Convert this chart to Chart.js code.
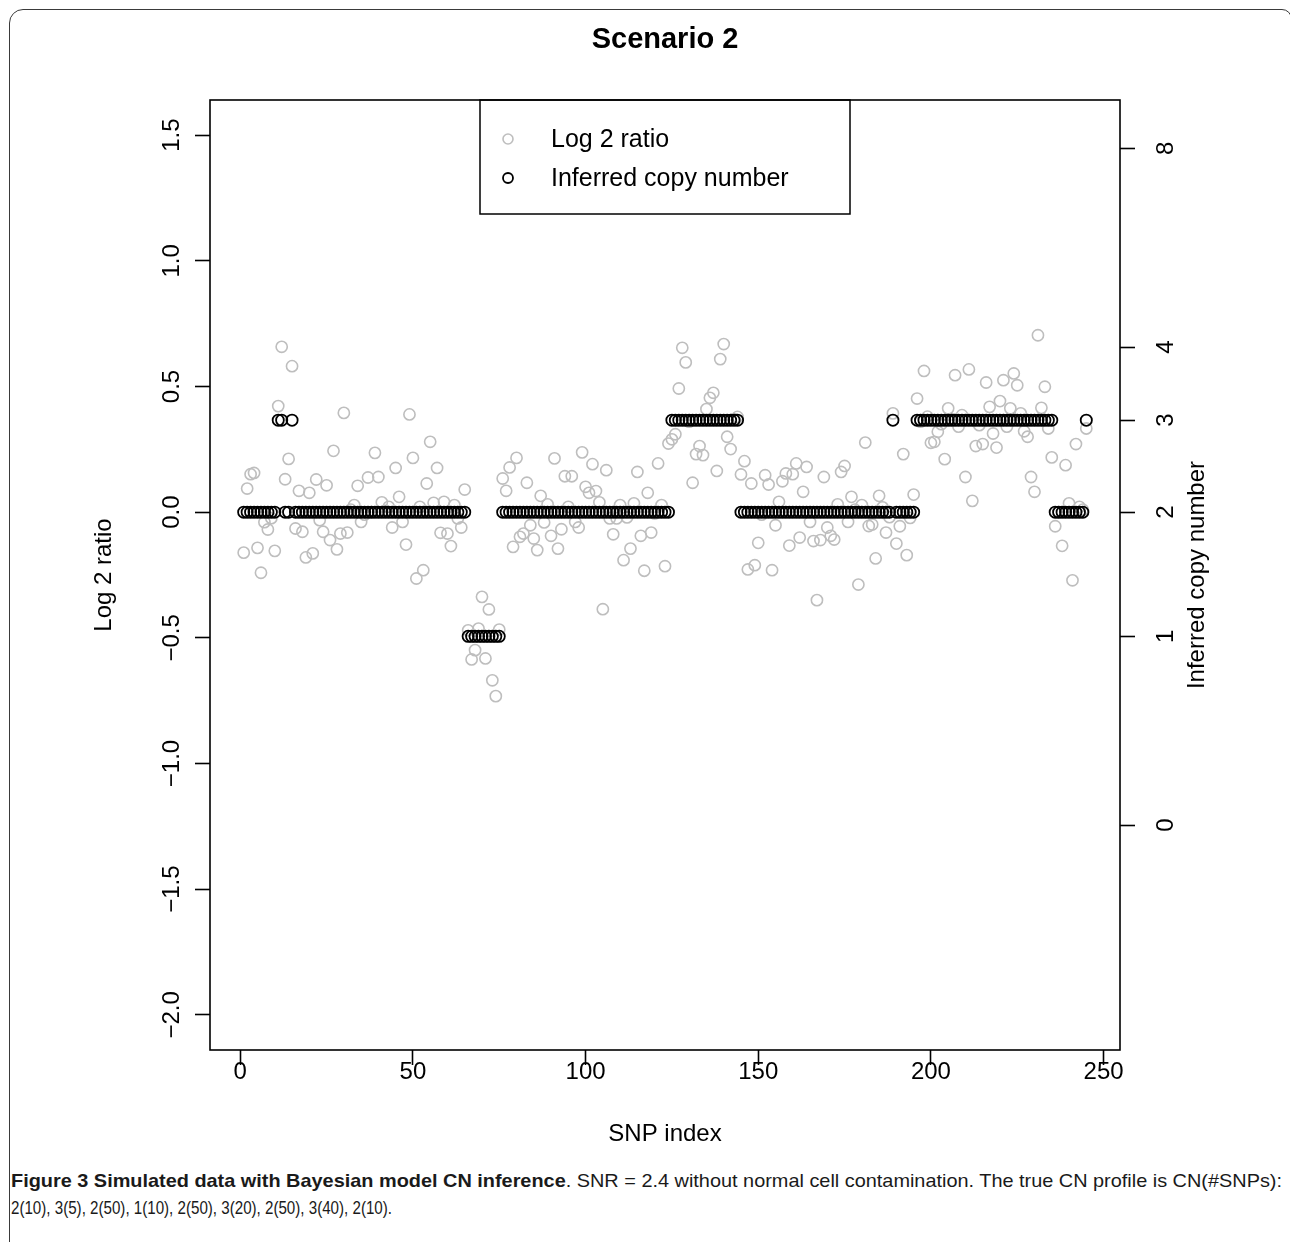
<!DOCTYPE html>
<html>
<head>
<meta charset="utf-8">
<script src="https://cdn.jsdelivr.net/npm/chart.js@4.4.1/dist/chart.umd.min.js"></script>
<style>
  html, body { margin: 0; padding: 0; background: #fff; overflow: hidden; }
  #frame { position: absolute; left: 9px; top: 9px; width: 1283px; height: 1300px;
           border: 1.3px solid #3a3a3a; border-top-left-radius: 14px; border-top-right-radius: 10px;
           box-sizing: border-box; }
  #c { position: absolute; left: 0; top: 0; }
  .capline { position: absolute; left: 11px; white-space: nowrap; display: inline-block;
             transform-origin: 0 0;
             font-family: "Liberation Sans", Arial, Helvetica, sans-serif;
             font-size: 19px; line-height: 27px; color: #1a1a1a; }
  #l1 { top: 1167px; }
  #l2 { top: 1194px; }
  .capline b { font-weight: bold; }
</style>
</head>
<body>
<div id="frame"></div>
<canvas id="c" width="1290" height="1160"></canvas>
<span id="l1" class="capline"><b>Figure 3 Simulated data with Bayesian model CN inference</b>. SNR = 2.4 without normal cell contamination. The true CN profile is CN(#SNPs):</span>
<span id="l2" class="capline">2(10), 3(5), 2(50), 1(10), 2(50), 3(20), 2(50), 3(40), 2(10).</span>
<script>
// ---------- data ----------
const chartTitle = "Scenario 2";
const xTitle = "SNP index";
const yTitle = "Log 2 ratio";
const y2Title = "Inferred copy number";
const seriesNames = ["Log 2 ratio", "Inferred copy number"];

const xTickValues = [0, 50, 100, 150, 200, 250];
const xTickLabels = ["0", "50", "100", "150", "200", "250"];
const yTickValues = [-2.0, -1.5, -1.0, -0.5, 0.0, 0.5, 1.0, 1.5];
const yTickLabels = ["\u22122.0", "\u22121.5", "\u22121.0", "\u22120.5", "0.0", "0.5", "1.0", "1.5"];
// right axis: copy number and where it sits on the log2 ratio scale
const cnTickLabels = ["0", "1", "2", "3", "4", "8"];
const cnTickValues = [0, 1, 2, 3, 4, 8];
const cnTickLog2 = [-1.245, -0.494, 0.0, 0.366, 0.657, 1.448];

// log2 ratio, SNP 1..245
const log2Ratio = [
  -0.161, 0.094, 0.151, 0.156, -0.142, -0.241, -0.040, -0.069, -0.024, -0.154,
   0.422, 0.658, 0.131, 0.212, 0.581, -0.065, 0.085, -0.078, -0.180, 0.077,
  -0.164, 0.130, -0.032, -0.078, 0.107, -0.111, 0.244, -0.148, -0.085, 0.395,
  -0.081, 0.010, 0.028, 0.105, -0.039, -0.010, 0.138, 0.000, 0.236, 0.140,
   0.039, 0.005, 0.021, -0.061, 0.176, 0.061, -0.039, -0.129, 0.389, 0.216,
  -0.264, 0.021, -0.231, 0.114, 0.280, 0.037, 0.176, -0.082, 0.041, -0.085,
  -0.135, 0.028, -0.025, -0.061, 0.090, -0.470, -0.586, -0.549, -0.463, -0.337,
  -0.582, -0.387, -0.669, -0.732, -0.467, 0.134, 0.085, 0.178, -0.138, 0.216,
  -0.098, -0.085, 0.117, -0.052, -0.105, -0.151, 0.065, -0.041, 0.031, -0.094,
   0.214, -0.145, -0.068, 0.143, 0.021, 0.143, -0.039, -0.061, 0.238, 0.101,
   0.077, 0.191, 0.084, 0.039, -0.386, 0.167, -0.025, -0.088, -0.025, 0.028,
  -0.191, -0.021, -0.145, 0.035, 0.160, -0.094, -0.233, 0.077, -0.081, -0.005,
   0.194, 0.028, -0.215, 0.273, 0.290, 0.310, 0.492, 0.654, 0.596, 0.360,
   0.117, 0.231, 0.263, 0.227, 0.410, 0.455, 0.475, 0.164, 0.609, 0.669,
   0.300, 0.251, 0.370, 0.379, 0.150, 0.203, -0.228, 0.114, -0.211, -0.122,
  -0.010, 0.147, 0.110, -0.231, -0.052, 0.041, 0.123, 0.154, -0.133, 0.151,
   0.194, -0.101, 0.081, 0.180, -0.039, -0.115, -0.350, -0.111, 0.140, -0.061,
  -0.094, -0.109, 0.031, 0.160, 0.184, -0.039, 0.061, 0.010, -0.288, 0.028,
   0.277, -0.055, -0.049, -0.184, 0.065, 0.019, -0.081, -0.020, 0.393, -0.125,
  -0.056, 0.231, -0.171, -0.023, 0.070, 0.452, 0.360, 0.562, 0.380, 0.276,
   0.280, 0.320, 0.350, 0.211, 0.413, 0.370, 0.545, 0.340, 0.386, 0.140,
   0.568, 0.045, 0.263, 0.346, 0.271, 0.516, 0.419, 0.313, 0.257, 0.442,
   0.525, 0.340, 0.413, 0.552, 0.505, 0.393, 0.322, 0.300, 0.140, 0.081,
   0.704, 0.415, 0.499, 0.333, 0.218, -0.056, 0.000, -0.134, 0.187, 0.035,
  -0.271, 0.271, 0.021, 0.010, 0.333
];

// inferred copy number, SNP 1..245
const inferredCN = [
  2,2,2,2,2,2,2,2,2,2,
  3,3,2,2,3,2,2,2,2,2,
  2,2,2,2,2,2,2,2,2,2,
  2,2,2,2,2,2,2,2,2,2,
  2,2,2,2,2,2,2,2,2,2,
  2,2,2,2,2,2,2,2,2,2,
  2,2,2,2,2,1,1,1,1,1,
  1,1,1,1,1,2,2,2,2,2,
  2,2,2,2,2,2,2,2,2,2,
  2,2,2,2,2,2,2,2,2,2,
  2,2,2,2,2,2,2,2,2,2,
  2,2,2,2,2,2,2,2,2,2,
  2,2,2,2,3,3,3,3,3,3,
  3,3,3,3,3,3,3,3,3,3,
  3,3,3,3,2,2,2,2,2,2,
  2,2,2,2,2,2,2,2,2,2,
  2,2,2,2,2,2,2,2,2,2,
  2,2,2,2,2,2,2,2,2,2,
  2,2,2,2,2,2,2,2,3,2,
  2,2,2,2,2,3,3,3,3,3,
  3,3,3,3,3,3,3,3,3,3,
  3,3,3,3,3,3,3,3,3,3,
  3,3,3,3,3,3,3,3,3,3,
  3,3,3,3,3,2,2,2,2,2,
  2,2,2,2,3
];

// ---------- caption fitting (condensed text like the journal typeface) ----------
function fitLine(id, targetWidth) {
  const el = document.getElementById(id);
  const w = el.getBoundingClientRect().width;
  if (w > 0) el.style.transform = 'scaleX(' + (targetWidth / w) + ')';
}
fitLine('l1', 1271);
fitLine('l2', 381);

// ---------- chart ----------
const FONT = '"Liberation Sans", Arial, Helvetica, sans-serif';
const ratioPoints = log2Ratio.map((v, i) => ({ x: i + 1, y: v }));
const cnPoints = inferredCN.map((cn, i) => ({ x: i + 1, y: cnTickLog2[cnTickValues.indexOf(cn)] }));

const tickGrid = { display: true, drawOnChartArea: false, drawTicks: true, tickLength: 15,
                   tickColor: '#000', tickWidth: 1.6 };

const rPlot = {
  id: 'rPlot',
  afterDraw(chart) {
    const { ctx, chartArea: a, scales } = chart;
    ctx.save();
    // plot box
    ctx.strokeStyle = '#000';
    ctx.lineWidth = 1.6;
    ctx.strokeRect(a.left, a.top, a.right - a.left, a.bottom - a.top);

    ctx.fillStyle = '#000';
    ctx.font = '24px ' + FONT;
    ctx.textAlign = 'center';
    ctx.textBaseline = 'middle';
    // x tick labels
    scales.x.ticks.forEach((t, i) => {
      ctx.fillText(xTickLabels[i], scales.x.getPixelForValue(t.value), a.bottom + 22);
    });
    // left tick labels (rotated)
    scales.y.ticks.forEach((t, i) => {
      ctx.save();
      ctx.translate(a.left - 38, scales.y.getPixelForValue(t.value));
      ctx.rotate(-Math.PI / 2);
      ctx.fillText(yTickLabels[i], 0, 0);
      ctx.restore();
    });
    // right tick labels (rotated)
    scales.y2.ticks.forEach((t, i) => {
      ctx.save();
      ctx.translate(a.right + 46, scales.y2.getPixelForValue(t.value));
      ctx.rotate(-Math.PI / 2);
      ctx.fillText(cnTickLabels[i], 0, 0);
      ctx.restore();
    });
    // axis titles
    const cx = (a.left + a.right) / 2, cy = (a.top + a.bottom) / 2;
    ctx.fillText(xTitle, cx, a.bottom + 84);
    ctx.save(); ctx.translate(a.left - 106, cy); ctx.rotate(-Math.PI / 2); ctx.fillText(yTitle, 0, 0); ctx.restore();
    ctx.save(); ctx.translate(a.right + 77, cy); ctx.rotate(-Math.PI / 2); ctx.fillText(y2Title, 0, 0); ctx.restore();
    // main title
    ctx.font = 'bold 29px ' + FONT;
    ctx.fillText(chartTitle, cx, 40);

    // legend
    const lx = a.left + 270, ly = a.top, lw = 370, lh = 114;
    ctx.lineWidth = 1.5;
    ctx.strokeRect(lx, ly, lw, lh);
    ctx.font = '25px ' + FONT;
    ctx.textAlign = 'left';
    chart.data.datasets.forEach((ds, i) => {
      const yy = ly + 39 + i * 39;
      ctx.beginPath();
      ctx.arc(lx + 28, yy, 5, 0, Math.PI * 2);
      ctx.strokeStyle = ds.borderColor;
      ctx.lineWidth = ds.borderWidth;
      ctx.stroke();
      ctx.fillStyle = '#000';
      ctx.fillText(ds.label, lx + 71, yy + 1);
    });
    ctx.restore();
  }
};

new Chart(document.getElementById('c'), {
  type: 'scatter',
  data: {
    datasets: [
      { label: seriesNames[0], data: ratioPoints, yAxisID: 'y', order: 2,
        pointStyle: 'circle', pointRadius: 5.6, borderWidth: 1.6,
        borderColor: '#bebebe', backgroundColor: 'rgba(0,0,0,0)' },
      { label: seriesNames[1], data: cnPoints, yAxisID: 'y', order: 1,
        pointStyle: 'circle', pointRadius: 5.6, borderWidth: 1.8,
        borderColor: '#000000', backgroundColor: 'rgba(0,0,0,0)' }
    ]
  },
  options: {
    responsive: false,
    animation: false,
    devicePixelRatio: 1,
    events: [],
    layout: { padding: { top: 100, left: 0, right: 0, bottom: 0 } },
    plugins: { legend: { display: false }, title: { display: false }, tooltip: { enabled: false } },
    scales: {
      x: {
        type: 'linear', position: 'bottom', min: -8.76, max: 254.76,
        afterBuildTicks: s => { s.ticks = xTickValues.map(v => ({ value: v })); },
        afterFit: s => { s.height = 110; },
        ticks: { display: false },
        grid: tickGrid,
        border: { display: false }
      },
      y: {
        type: 'linear', position: 'left', min: -2.14, max: 1.64,
        afterBuildTicks: s => { s.ticks = yTickValues.map(v => ({ value: v })); },
        afterFit: s => { s.width = 210; },
        ticks: { display: false },
        grid: tickGrid,
        border: { display: false }
      },
      y2: {
        type: 'linear', position: 'right', min: -2.14, max: 1.64,
        afterBuildTicks: s => { s.ticks = cnTickLog2.map(v => ({ value: v })); },
        afterFit: s => { s.width = 170; },
        ticks: { display: false },
        grid: tickGrid,
        border: { display: false }
      }
    }
  },
  plugins: [rPlot]
});
</script>
</body>
</html>
